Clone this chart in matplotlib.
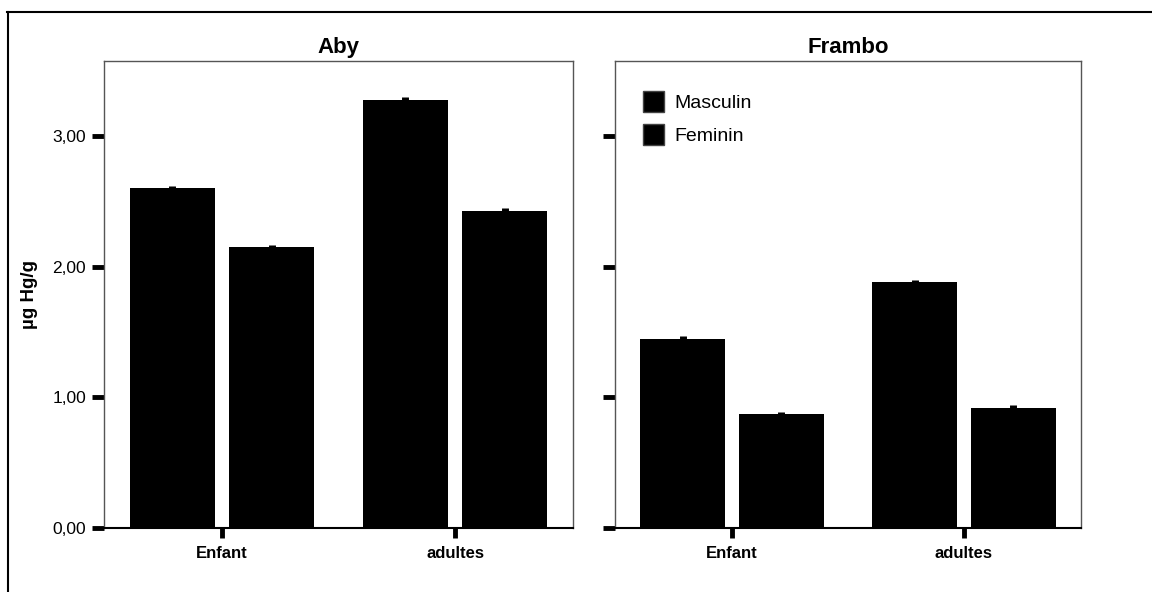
import matplotlib.pyplot as plt
import numpy as np
from matplotlib.patches import Patch
from matplotlib.lines import Line2D

plt.rcParams["font.family"] = ["Liberation Sans", "DejaVu Sans"]

# data
groups = ["Enfant", "adultes"]
sexes = ["Masculin", "Feminin"]
panels = ["Aby", "Frambo"]
aby_masculin = [2.60, 3.28]
aby_feminin = [2.15, 2.43]
frambo_masculin = [1.45, 1.88]
frambo_feminin = [0.87, 0.92]
err_small = [0.02, 0.02]
yticks = [0.0, 1.0, 2.0, 3.0]
ytick_labels = ["0,00", "1,00", "2,00", "3,00"]

values = {
    "Aby": (aby_masculin, aby_feminin),
    "Frambo": (frambo_masculin, frambo_feminin),
}

fig = plt.figure(figsize = (11.52, 5.92), dpi = 100)
W, H = 1152, 592


def px_axes(x0, y0, x1, y1):
    return fig.add_axes([x0 / W, 1 - y1 / H, (x1 - x0) / W, (y1 - y0) / H])


ax_left = px_axes(104, 61, 573, 528)
ax_right = px_axes(615, 61, 1081, 528)

x = np.arange(len(groups))
width = 0.365
offset = 0.213

for ax, name in zip([ax_left, ax_right], panels):
    masc, fem = values[name]
    ax.bar(x - offset, masc, width, color = "black", yerr = err_small,
           error_kw = dict(ecolor = "black", elinewidth = 5, capsize = 0))
    ax.bar(x + offset, fem, width, color = "black", yerr = err_small,
           error_kw = dict(ecolor = "black", elinewidth = 5, capsize = 0))
    ax.set_xlim(-0.505, 1.505)
    ax.set_ylim(0, 3.575)
    ax.set_xticks(x)
    ax.set_xticklabels(groups, fontsize = 12, fontweight = "bold")
    ax.set_yticks(yticks)
    ax.tick_params(axis = "both", direction = "out", length = 9, width = 3.5, color = "black", pad = 4)
    ax.tick_params(axis = "x", length = 7, width = 3.5, pad = 6)
    for side in ["top", "right", "left"]:
        ax.spines[side].set_color("#555555")
        ax.spines[side].set_linewidth(1.0)
    ax.spines["bottom"].set_color("black")
    ax.spines["bottom"].set_linewidth(1.5)
    ax.set_title(name, fontsize = 16, fontweight = "bold", pad = 6)

ax_left.set_yticklabels(ytick_labels, fontsize = 12.5)
ax_right.set_yticklabels([])
ax_left.set_ylabel("µg Hg/g", fontsize = 13.5, fontweight = "bold", labelpad = 10)

handles = [Patch(facecolor = "black", edgecolor = "#444444", label = s) for s in sexes]
ax_right.legend(handles = handles, loc = "upper left", frameon = False, fontsize = 14,
                handlelength = 1.1, handleheight = 1.3, handletextpad = 0.5,
                labelspacing = 0.6, borderaxespad = 1.15, bbox_to_anchor = (-0.005, 1.0))

# outer frame lines (top and left)
fig.add_artist(Line2D([7 / W, 1.0], [1 - 12 / H, 1 - 12 / H], color = "black", linewidth = 1.5))
fig.add_artist(Line2D([8 / W, 8 / W], [0.0, 1 - 12 / H], color = "black", linewidth = 1.5))

fig.savefig("out.png", dpi = 100)
plt.close(fig)
